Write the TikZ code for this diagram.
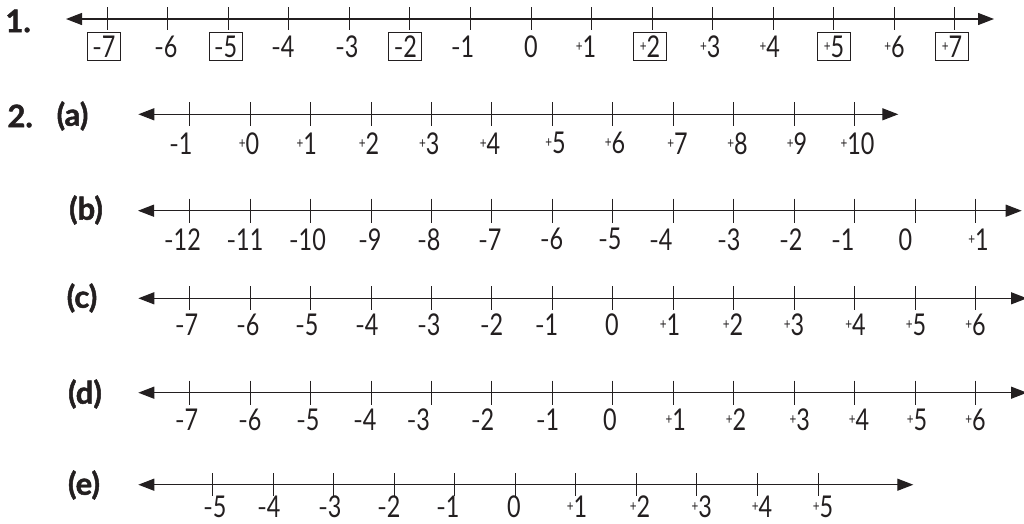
\documentclass[tikz,border=0pt]{standalone}
\usepackage{graphicx}
\usepackage{fontspec}
\setmainfont{Lato}[BoldFeatures={FakeBold=1.5}]
\usetikzlibrary{arrows.meta}
\definecolor{ink}{RGB}{35,31,32}
\newcommand\mn{\scalebox{0.7}[1]{–}}
\newcommand\pl{\raisebox{0.2em}{\scalebox{0.5}{+}}}
\newcommand\nx[1]{\scalebox{0.78}[1]{#1}}
\tikzset{
  axis/.style={ink, line width=1.3pt, {Triangle[length=16pt,width=12pt]}-{Triangle[length=16pt,width=12pt]}},
  tickmark/.style={ink, line width=1pt},
  lbl/.style={ink, font=\fontsize{30}{30}\selectfont, inner sep=0pt, anchor=center},
  boxed/.style={lbl, draw, line width=0.8pt, minimum width=33pt, minimum height=28pt},
  head/.style={ink, font=\fontsize{31}{31}\selectfont\bfseries, inner sep=0pt},
}
\begin{document}
\begin{tikzpicture}[x=1pt,y=-1pt]
\useasboundingbox (0,0) rectangle (1024,523);
% headings
\node[head, anchor=east] (h1) at (31,21) {1.};
\node[head, anchor=east] (h2) at (33,116) {2.};
\node[head] (ha) at (72.5,116) {(a)};
\node[head] (hb) at (86,210) {(b)};
\node[head] (hc) at (82,298) {(c)};
\node[head] (hd) at (85,394) {(d)};
\node[head] (he) at (84,485) {(e)};
% ---------- row 1
\coordinate (r1L) at (66,19); \coordinate (r1R) at (994,19);
\draw[axis] (r1L) -- (r1R);
\foreach \i in {0,...,14} \draw[tickmark] ({107.3+60.53*\i},7) -- ++(0,23);
\foreach \x/\t/\s [count=\k] in {104/\mn7/boxed,166/\mn6/lbl,225.7/\mn5/boxed,283/\mn4/lbl,347/\mn3/lbl,405.3/\mn2/boxed,462.7/\mn1/lbl,531/0/lbl,586/\pl1/lbl,650/\pl2/boxed,710.3/\pl3/lbl,769.7/\pl4/lbl,834/\pl5/boxed,894.5/\pl6/lbl,952/\pl7/boxed}
  \node[\s] (r1-\k) at (\x,46.7) {\nx{\t}};
% ---------- row a
\coordinate (raL) at (138.3,114.3); \coordinate (raR) at (898.3,114.3);
\draw[axis] (raL) -- (raR);
\foreach \i in {0,...,11} \draw[tickmark] ({189.7+60.45*\i},102) -- ++(0,24);
\foreach \x/\t [count=\k] in {181/\mn1,249/\pl0,306.7/\pl1,369/\pl2,429.3/\pl3,490/\pl4,555.5/\pl5,615/\pl6,677.5/\pl7,737.5/\pl8,797/\pl9,857.5/\pl10}
  \node[lbl] (ra-\k) at (\x,143.3) {\nx{\t}};
% ---------- row b
\coordinate (rbL) at (138,210.7); \coordinate (rbR) at (1021.7,210.7);
\draw[axis] (rbL) -- (rbR);
\foreach \i in {0,...,13} \draw[tickmark] ({189.7+60.45*\i},198.7) -- ++(0,24);
\foreach \x/\t [count=\k] in {182.5/\mn12,245/\mn11,307.5/\mn10,370/\mn9,429/\mn8,490/\mn7,551.7/\mn6,610/\mn5,661/\mn4,729/\mn3,791/\mn2,843/\mn1,905.5/0,978.5/\pl1}
  \node[lbl] (rb-\k) at (\x,239.3) {\nx{\t}};
% ---------- row c
\coordinate (rcL) at (138.3,298.3); \coordinate (rcR) at (1027,298.3);
\draw[axis] (rcL) -- (rcR);
\foreach \i in {0,...,13} \draw[tickmark] ({189.7+60.45*\i},286) -- ++(0,24);
\foreach \x/\t [count=\k] in {186.7/\mn7,248/\mn6,307/\mn5,367/\mn4,429/\mn3,491.7/\mn2,546.7/\mn1,612/0,670/\pl1,733/\pl2,794/\pl3,855.5/\pl4,916/\pl5,975.5/\pl6}
  \node[lbl] (rc-\k) at (\x,325) {\nx{\t}};
% ---------- row d
\coordinate (rdL) at (138.3,392.7); \coordinate (rdR) at (1027,392.7);
\draw[axis] (rdL) -- (rdR);
\foreach \i in {0,...,13} \draw[tickmark] ({189.7+60.45*\i},380.5) -- ++(0,24.5);
\foreach \x/\t [count=\k] in {186.7/\mn7,250/\mn6,308/\mn5,365/\mn4,418.3/\mn3,482.7/\mn2,547.7/\mn1,610/0,675.7/\pl1,736/\pl2,799.7/\pl3,859/\pl4,917/\pl5,975.5/\pl6}
  \node[lbl] (rd-\k) at (\x,420) {\nx{\t}};
% ---------- row e
\coordinate (reL) at (138.3,484.7); \coordinate (reR) at (913.3,484.7);
\draw[axis] (reL) -- (reR);
\foreach \i in {0,...,10} \draw[tickmark] ({212.7+60.53*\i},473) -- ++(0,22.5);
\foreach \x/\t [count=\k] in {215/\mn5,269/\mn4,330/\mn3,389/\mn2,448/\mn1,514/0,577/\pl1,640/\pl2,701.7/\pl3,762/\pl4,823/\pl5}
  \node[lbl] (re-\k) at (\x,507) {\nx{\t}};
\end{tikzpicture}
\end{document}
